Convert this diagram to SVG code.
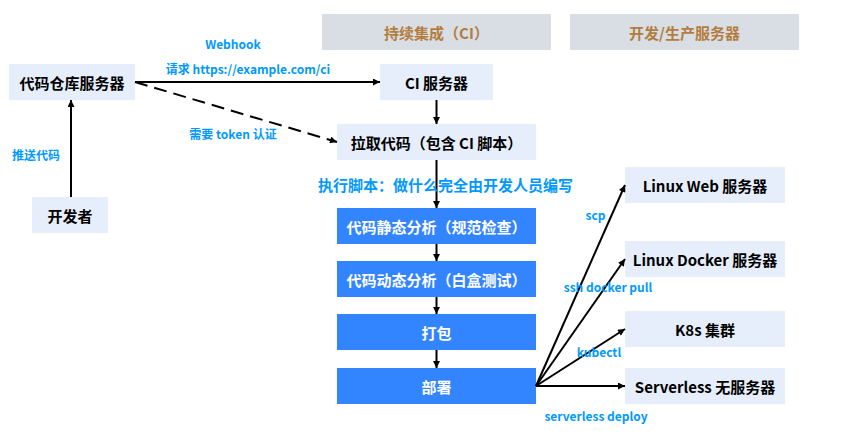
<svg xmlns="http://www.w3.org/2000/svg" width="849" height="438" viewBox="0 0 849 438">
<defs>
<marker id="ah" viewBox="0 0 10 10" refX="10" refY="5" markerWidth="8" markerHeight="7" markerUnits="userSpaceOnUse" orient="auto">
<path d="M0,0 L10,5 L0,10 z" fill="#000"/>
</marker>
</defs>
<style>
text{font-family:"Noto Sans CJK SC","Noto Sans",sans-serif;font-weight:bold;text-anchor:middle;dominant-baseline:central}
.hdr rect{fill:#d9dee5}
.hdr text{fill:#b27d3e;font-size:15px}
.lt rect{fill:#e6eefb}
.lt text{fill:#000;font-size:15px}
.bl rect{fill:#3385ff}
.bl text{fill:#fff;font-size:15px}
.lbl{fill:#0099ff;font-size:12px}
.c line{stroke:#000;stroke-width:2;fill:none;marker-end:url(#ah)}
</style>
<rect width="849" height="438" fill="#fff"/>
<g id="hdr-ci" class="hdr"><rect x="322" y="14" width="229" height="36"/><text x="436.5" y="32">持续集成（CI）</text></g>
<g id="hdr-server" class="hdr"><rect x="570" y="14" width="229" height="36"/><text x="684.5" y="32">开发/生产服务器</text></g>

<g id="repo" class="lt"><rect x="9" y="64" width="126" height="36"/><text x="72" y="82">代码仓库服务器</text></g>
<g id="dev" class="lt"><rect x="32" y="197" width="76" height="36"/><text x="70" y="215">开发者</text></g>
<g id="ci" class="lt"><rect x="380" y="64" width="113" height="36"/><text x="436.5" y="82">CI 服务器</text></g>
<g id="pull" class="lt"><rect x="337" y="124" width="199" height="36"/><text x="436.5" y="142">拉取代码（包含 CI 脚本）</text></g>
<g id="static" class="bl"><rect x="337" y="208" width="199" height="36"/><text x="436.5" y="226">代码静态分析（规范检查）</text></g>
<g id="dynamic" class="bl"><rect x="337" y="261" width="199" height="36"/><text x="436.5" y="279">代码动态分析（白盒测试）</text></g>
<g id="pack" class="bl"><rect x="337" y="314" width="199" height="36"/><text x="436.5" y="332">打包</text></g>
<g id="deploy" class="bl"><rect x="337" y="368" width="199" height="36"/><text x="436.5" y="386">部署</text></g>
<g id="web" class="lt"><rect x="625" y="167" width="160" height="36"/><text x="705" y="185">Linux Web 服务器</text></g>
<g id="docker" class="lt"><rect x="625" y="241" width="160" height="36"/><text x="705" y="259">Linux Docker 服务器</text></g>
<g id="k8s" class="lt"><rect x="625" y="311" width="160" height="36"/><text x="705" y="329">K8s 集群</text></g>
<g id="serverless" class="lt"><rect x="625" y="368" width="160" height="36"/><text x="705" y="386">Serverless 无服务器</text></g>

<g id="connectors" class="c">
<line x1="71" y1="197" x2="71" y2="100"/>
<line x1="135" y1="82" x2="380" y2="82"/>
<line x1="135" y1="82" x2="337" y2="142" stroke-dasharray="13,7"/>
<line x1="436.5" y1="100" x2="436.5" y2="124"/>
<line x1="436.5" y1="160" x2="436.5" y2="208"/>
<line x1="436.5" y1="244" x2="436.5" y2="261"/>
<line x1="436.5" y1="297" x2="436.5" y2="314"/>
<line x1="436.5" y1="350" x2="436.5" y2="368"/>
<line x1="536" y1="386" x2="625" y2="185"/>
<line x1="536" y1="386" x2="625" y2="259"/>
<line x1="536" y1="386" x2="625" y2="329"/>
<line x1="536" y1="386" x2="625" y2="386"/>
</g>

<g id="labels">
<text class="lbl" x="233" y="43">Webhook</text>
<text class="lbl" x="248" y="68">请求 https://example.com/ci</text>
<text class="lbl" x="233" y="133">需要 token 认证</text>
<text class="lbl" x="36" y="154">推送代码</text>
<text class="lbl" x="445.5" y="184" style="font-size:15px">执行脚本：做什么完全由开发人员编写</text>
<text class="lbl" x="595.5" y="214">scp</text>
<text class="lbl" x="608" y="286">ssh docker pull</text>
<text class="lbl" x="599" y="351">kubectl</text>
<text class="lbl" x="596" y="415">serverless deploy</text>
</g>
</svg>
